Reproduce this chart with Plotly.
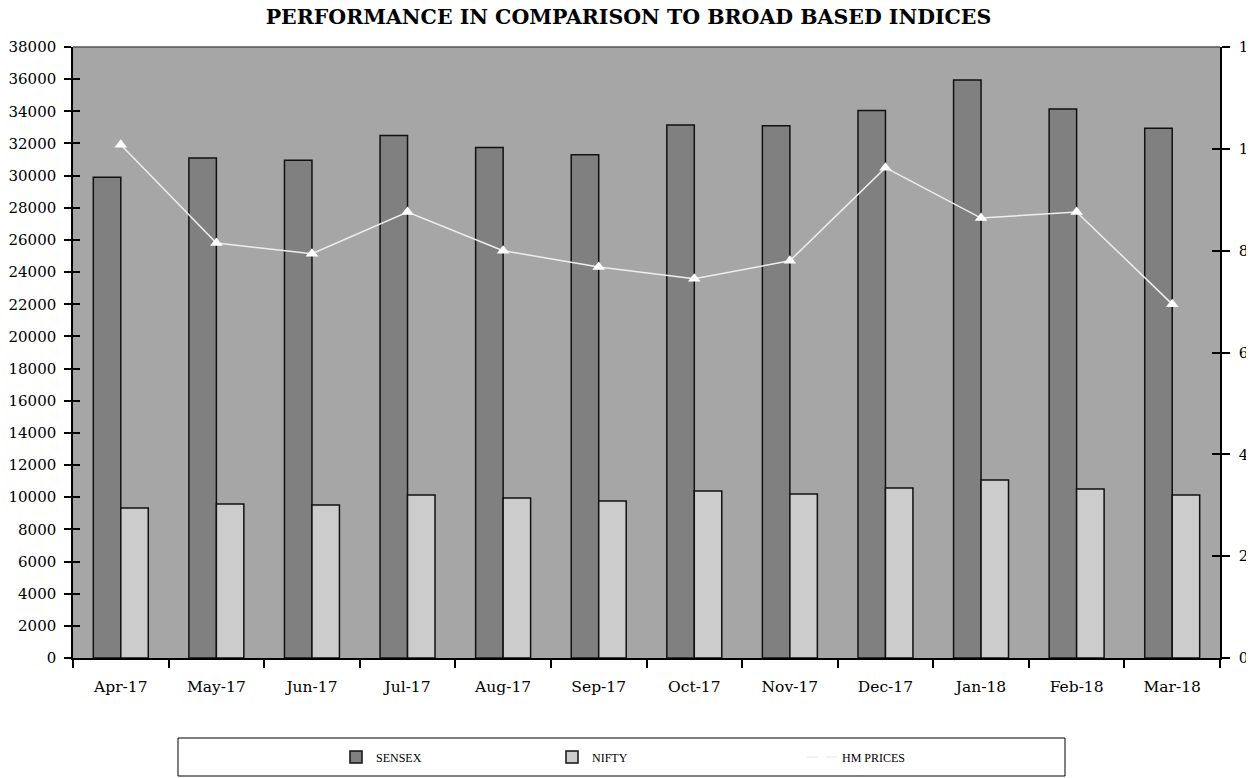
import plotly.graph_objects as go

months = ["Apr-17", "May-17", "Jun-17", "Jul-17", "Aug-17", "Sep-17",
          "Oct-17", "Nov-17", "Dec-17", "Jan-18", "Feb-18", "Mar-18"]
sensex = [29900, 31100, 30950, 32500, 31750, 31300, 33150, 33100, 34050, 35950, 34150, 32950]
nifty = [9330, 9580, 9520, 10140, 9950, 9770, 10390, 10200, 10570, 11070, 10510, 10140]
hm_prices = [10.08, 8.15, 7.94, 8.76, 8.0, 7.68, 7.45, 7.8, 9.63, 8.64, 8.76, 6.95]

left_ticks = list(range(0, 38001, 2000))
right_ticks = list(range(0, 13, 2))

FONT = "DejaVu Serif"
LFONT = "Liberation Serif"

# plot area screen coords: left=73, right=1220, top=47, bottom=658 (page body margin removed)
W, H = 1257, 778
ML, MR, MT, MB = 73, 37, 47, 120
PW = W - ML - MR
PH = H - MT - MB


def px(x):
    return (x - ML) / PW


def py(y):
    return (MT + PH - y) / PH


fig = go.Figure()
fig.add_trace(go.Bar(x=months, y=sensex, name="SENSEX", legend="legend",
                     marker=dict(color="#808080", line=dict(color="#111111", width=1.5))))
fig.add_trace(go.Bar(x=months, y=nifty, name="NIFTY", legend="legend",
                     marker=dict(color="#cccccc", line=dict(color="#111111", width=1.5))))
fig.add_trace(go.Scatter(x=months, y=hm_prices, name="HM PRICES", yaxis="y2", legend="legend2",
                         mode="lines+markers",
                         line=dict(color="#eeeeee", width=1.5),
                         marker=dict(symbol="triangle-up", size=11, color="white")))
# helper traces for inward tick marks (crossing ticks)
fig.add_trace(go.Scatter(x=months, y=[None]*len(months), yaxis="y3", showlegend=False,
                         hoverinfo="skip", mode="lines"))
fig.add_trace(go.Scatter(x=months, y=[None]*len(months), yaxis="y4", showlegend=False,
                         hoverinfo="skip", mode="lines"))

fig.update_layout(
    template="none",
    width=W, height=H,
    margin=dict(l=ML, r=MR, t=MT, b=MB),
    paper_bgcolor="white",
    plot_bgcolor="#a6a6a6",
    barmode="group",
    bargap=0.425,
    bargroupgap=0,
    font=dict(family=FONT, size=14, color="black"),
    title=dict(text="<b>PERFORMANCE IN COMPARISON TO BROAD BASED INDICES</b>",
               x=0.5, xanchor="center", y=1 - 17 / H, yanchor="middle",
               font=dict(family=FONT, size=20.5, color="black")),
    xaxis=dict(type="category", range=[-0.5, len(months) - 0.5],
               showgrid=False, showline=True, linecolor="black", linewidth=1.5,
               ticks="outside", ticklen=8, tickwidth=1.5, tickcolor="black", tickson="boundaries",
               ticklabelstandoff=14,
               tickfont=dict(family=FONT, size=15.5), automargin=False),
    yaxis=dict(range=[0, 38000], tickvals=left_ticks, tickformat="d", showgrid=False,
               zeroline=False, showline=True, linecolor="black", linewidth=1.5,
               ticks="outside", ticklen=7, tickwidth=1.5, tickcolor="black",
               ticklabelstandoff=5,
               tickfont=dict(family=FONT, size=15), automargin=False),
    yaxis2=dict(range=[0, 12], tickvals=right_ticks, overlaying="y", side="right",
                showgrid=False, zeroline=False, showline=True, linecolor="black", linewidth=1.5,
                ticks="outside", ticklen=8, tickwidth=1.5, tickcolor="black",
                ticklabelstandoff=6,
                tickfont=dict(family=FONT, size=15), automargin=False),
    yaxis3=dict(range=[0, 38000], tickvals=left_ticks, overlaying="y", side="left",
                showgrid=False, zeroline=False, showticklabels=False, showline=False,
                ticks="inside", ticklen=7, tickwidth=1.5, tickcolor="black", automargin=False),
    yaxis4=dict(range=[0, 12], tickvals=right_ticks, overlaying="y", side="right",
                showgrid=False, zeroline=False, showticklabels=False, showline=False,
                ticks="inside", ticklen=8, tickwidth=1.5, tickcolor="black", automargin=False),
    showlegend=True,
    legend=dict(orientation="h", xref="container", yref="container",
                x=336 / W, xanchor="left", y=1 - 757 / H, yanchor="middle",
                entrywidth=171, entrywidthmode="pixels",
                bgcolor="rgba(0,0,0,0)", borderwidth=0,
                font=dict(family=LFONT, size=12), itemclick=False),
    legend2=dict(orientation="h", xref="container", yref="container",
                 x=802 / W, xanchor="left", y=1 - 757 / H, yanchor="middle",
                 bgcolor="rgba(0,0,0,0)", borderwidth=0,
                 font=dict(family=LFONT, size=12), itemclick=False),
    shapes=[
        dict(type="rect", xref="paper", yref="paper",
             x0=px(178), x1=px(1065), y0=py(776), y1=py(738),
             line=dict(color="black", width=1), fillcolor="rgba(0,0,0,0)", layer="below"),
        dict(type="line", xref="paper", yref="paper", x0=0, x1=1, y0=1, y1=1,
             line=dict(color="#555555", width=1.5)),
        # the reference image is cropped just right of the right-axis labels
        dict(type="rect", xref="paper", yref="paper",
             x0=px(1246), x1=px(1260), y0=py(790), y1=py(-10),
             line=dict(width=0), fillcolor="white", layer="above"),
    ],
)

fig.write_html("out.html", config={"displayModeBar": False},
               post_script="document.body.style.margin='0';")
